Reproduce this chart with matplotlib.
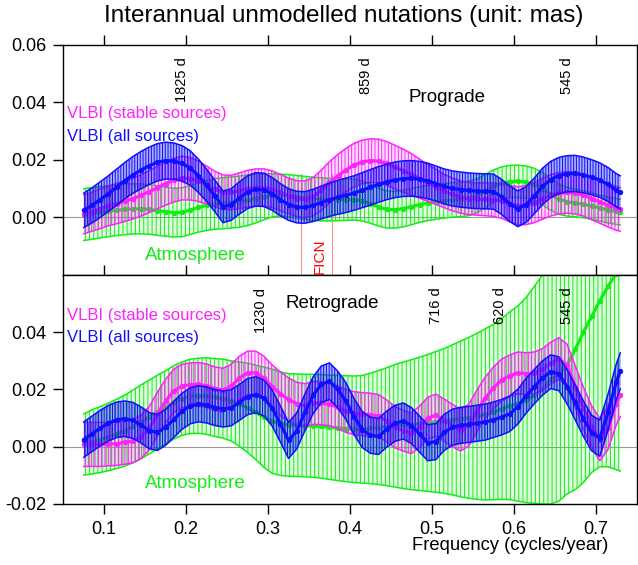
import matplotlib
matplotlib.use("Agg")
import matplotlib.pyplot as plt
import numpy as np

plt.rcParams["font.family"] = ["Liberation Sans", "DejaVu Sans"]
plt.rcParams["hatch.linewidth"] = 0.7

# frequency grid (cycles/year)
freq = [0.075, 0.085, 0.095, 0.105, 0.115, 0.125, 0.135, 0.145, 0.155, 0.165,
        0.175, 0.185, 0.195, 0.205, 0.215, 0.225, 0.235, 0.245, 0.255, 0.265,
        0.275, 0.285, 0.295, 0.305, 0.315, 0.325, 0.335, 0.345, 0.355, 0.365,
        0.375, 0.385, 0.395, 0.405, 0.415, 0.425, 0.435, 0.445, 0.455, 0.465,
        0.475, 0.485, 0.495, 0.505, 0.515, 0.525, 0.535, 0.545, 0.555, 0.565,
        0.575, 0.585, 0.595, 0.605, 0.615, 0.625, 0.635, 0.645, 0.655, 0.665,
        0.675, 0.685, 0.695, 0.705, 0.715, 0.725, 0.73]

# ---- prograde (top panel) ----
pro_all = [0.0025, 0.0042, 0.0062, 0.0083, 0.0105, 0.0128, 0.0148, 0.0165, 0.0180, 0.0192,
           0.0198, 0.0196, 0.0188, 0.0172, 0.0145, 0.0112, 0.0075, 0.0037, 0.0045, 0.0068,
           0.0088, 0.0098, 0.0096, 0.0082, 0.0062, 0.0045, 0.0036, 0.0035, 0.0042, 0.0052,
           0.0062, 0.0070, 0.0077, 0.0085, 0.0095, 0.0105, 0.0115, 0.0124, 0.0131, 0.0135,
           0.0136, 0.0133, 0.0127, 0.0118, 0.0108, 0.0101, 0.0097, 0.0094, 0.0092, 0.0091,
           0.0090, 0.0072, 0.0048, 0.0030, 0.0045, 0.0075, 0.0108, 0.0132, 0.0146, 0.0152,
           0.0153, 0.0148, 0.0140, 0.0130, 0.0115, 0.0095, 0.0087]
pro_all_err = [0.0060, 0.0061, 0.0062, 0.0062, 0.0063, 0.0063, 0.0064, 0.0065, 0.0065, 0.0065,
               0.0064, 0.0063, 0.0062, 0.0060, 0.0058, 0.0056, 0.0055, 0.0055, 0.0055, 0.0056,
               0.0057, 0.0058, 0.0058, 0.0057, 0.0056, 0.0055, 0.0055, 0.0055, 0.0056, 0.0057,
               0.0058, 0.0059, 0.0060, 0.0060, 0.0061, 0.0062, 0.0062, 0.0062, 0.0062, 0.0062,
               0.0062, 0.0062, 0.0062, 0.0061, 0.0061, 0.0061, 0.0061, 0.0061, 0.0061, 0.0061,
               0.0061, 0.0061, 0.0062, 0.0062, 0.0062, 0.0062, 0.0063, 0.0063, 0.0063, 0.0063,
               0.0063, 0.0062, 0.0061, 0.0060, 0.0059, 0.0058, 0.0058]
pro_stable = [0.0011, 0.0020, 0.0030, 0.0040, 0.0048, 0.0056, 0.0066, 0.0077, 0.0090, 0.0104,
              0.0118, 0.0130, 0.0137, 0.0135, 0.0126, 0.0113, 0.0099, 0.0088, 0.0087, 0.0093,
              0.0100, 0.0104, 0.0104, 0.0098, 0.0087, 0.0075, 0.0066, 0.0063, 0.0072, 0.0095,
              0.0122, 0.0145, 0.0165, 0.0182, 0.0193, 0.0198, 0.0196, 0.0188, 0.0175, 0.0163,
              0.0150, 0.0135, 0.0120, 0.0106, 0.0092, 0.0080, 0.0071, 0.0066, 0.0064, 0.0063,
              0.0062, 0.0057, 0.0048, 0.0041, 0.0043, 0.0052, 0.0065, 0.0077, 0.0084, 0.0087,
              0.0085, 0.0078, 0.0066, 0.0054, 0.0042, 0.0032, 0.0028]
pro_stable_err = [0.0068, 0.0068, 0.0069, 0.0069, 0.0070, 0.0070, 0.0071, 0.0072, 0.0073, 0.0074,
                  0.0075, 0.0076, 0.0076, 0.0074, 0.0070, 0.0066, 0.0062, 0.0060, 0.0060, 0.0062,
                  0.0064, 0.0065, 0.0065, 0.0064, 0.0063, 0.0062, 0.0062, 0.0064, 0.0067, 0.0070,
                  0.0072, 0.0074, 0.0075, 0.0076, 0.0076, 0.0076, 0.0076, 0.0076, 0.0076, 0.0075,
                  0.0072, 0.0068, 0.0064, 0.0061, 0.0058, 0.0057, 0.0056, 0.0056, 0.0056, 0.0057,
                  0.0058, 0.0060, 0.0063, 0.0066, 0.0068, 0.0070, 0.0071, 0.0072, 0.0072, 0.0072,
                  0.0073, 0.0073, 0.0074, 0.0074, 0.0075, 0.0076, 0.0076]
pro_atm = [0.0010, 0.0014, 0.0018, 0.0022, 0.0025, 0.0028, 0.0030, 0.0030, 0.0028, 0.0024,
           0.0020, 0.0017, 0.0018, 0.0026, 0.0035, 0.0042, 0.0047, 0.0050, 0.0052, 0.0055,
           0.0060, 0.0066, 0.0072, 0.0077, 0.0078, 0.0076, 0.0072, 0.0068, 0.0065, 0.0063,
           0.0062, 0.0062, 0.0062, 0.0062, 0.0058, 0.0048, 0.0036, 0.0028, 0.0027, 0.0031,
           0.0038, 0.0045, 0.0050, 0.0054, 0.0058, 0.0061, 0.0063, 0.0066, 0.0075, 0.0092,
           0.0108, 0.0119, 0.0125, 0.0126, 0.0123, 0.0115, 0.0100, 0.0080, 0.0064, 0.0055,
           0.0050, 0.0046, 0.0040, 0.0033, 0.0026, 0.0021, 0.0019]
pro_atm_err = [0.0090, 0.0090, 0.0089, 0.0089, 0.0088, 0.0088, 0.0087, 0.0087, 0.0086, 0.0086,
               0.0085, 0.0085, 0.0085, 0.0085, 0.0086, 0.0087, 0.0088, 0.0089, 0.0089, 0.0089,
               0.0088, 0.0085, 0.0080, 0.0075, 0.0073, 0.0073, 0.0074, 0.0075, 0.0075, 0.0075,
               0.0074, 0.0073, 0.0072, 0.0071, 0.0070, 0.0068, 0.0066, 0.0065, 0.0064, 0.0064,
               0.0063, 0.0062, 0.0061, 0.0060, 0.0060, 0.0060, 0.0060, 0.0060, 0.0059, 0.0058,
               0.0057, 0.0057, 0.0056, 0.0056, 0.0056, 0.0056, 0.0056, 0.0055, 0.0053, 0.0050,
               0.0048, 0.0047, 0.0046, 0.0045, 0.0045, 0.0045, 0.0045]

# ---- retrograde (bottom panel) ----
retro_all = [0.0025, 0.0045, 0.0065, 0.0082, 0.0094, 0.0098, 0.0092, 0.0076, 0.0056, 0.0050,
             0.0068, 0.0096, 0.0124, 0.0143, 0.0150, 0.0146, 0.0137, 0.0132, 0.0136, 0.0155,
             0.0175, 0.0182, 0.0170, 0.0135, 0.0080, 0.0022, 0.0055, 0.0120, 0.0180, 0.0218,
             0.0229, 0.0200, 0.0160, 0.0105, 0.0060, 0.0040, 0.0036, 0.0062, 0.0082, 0.0090,
             0.0074, 0.0044, 0.0014, 0.0018, 0.0050, 0.0068, 0.0075, 0.0078, 0.0082, 0.0086,
             0.0094, 0.0103, 0.0115, 0.0140, 0.0178, 0.0210, 0.0240, 0.0262, 0.0255, 0.0210,
             0.0155, 0.0098, 0.0048, 0.0030, 0.0120, 0.0225, 0.0265]
retro_all_err = [0.0062, 0.0062, 0.0062, 0.0062, 0.0062, 0.0062, 0.0063, 0.0063, 0.0063, 0.0063,
                 0.0063, 0.0063, 0.0063, 0.0063, 0.0063, 0.0063, 0.0063, 0.0063, 0.0063, 0.0063,
                 0.0063, 0.0063, 0.0063, 0.0063, 0.0063, 0.0063, 0.0063, 0.0064, 0.0064, 0.0064,
                 0.0064, 0.0064, 0.0064, 0.0063, 0.0063, 0.0063, 0.0063, 0.0063, 0.0063, 0.0063,
                 0.0063, 0.0063, 0.0063, 0.0063, 0.0063, 0.0063, 0.0063, 0.0063, 0.0063, 0.0063,
                 0.0062, 0.0062, 0.0062, 0.0061, 0.0061, 0.0060, 0.0060, 0.0059, 0.0059, 0.0060,
                 0.0061, 0.0062, 0.0062, 0.0063, 0.0063, 0.0063, 0.0063]
retro_stable = [0.0008, 0.0008, 0.0008, 0.0009, 0.0011, 0.0015, 0.0020, 0.0035, 0.0065, 0.0115,
                0.0160, 0.0195, 0.0212, 0.0217, 0.0218, 0.0213, 0.0203, 0.0198, 0.0212, 0.0240,
                0.0258, 0.0258, 0.0240, 0.0210, 0.0185, 0.0165, 0.0150, 0.0145, 0.0153, 0.0152,
                0.0148, 0.0138, 0.0125, 0.0117, 0.0114, 0.0112, 0.0108, 0.0090, 0.0068, 0.0056,
                0.0047, 0.0070, 0.0100, 0.0110, 0.0093, 0.0074, 0.0058, 0.0075, 0.0125, 0.0170,
                0.0205, 0.0233, 0.0248, 0.0258, 0.0255, 0.0258, 0.0270, 0.0292, 0.0308, 0.0285,
                0.0210, 0.0135, 0.0070, 0.0025, 0.0065, 0.0150, 0.0180]
retro_stable_err = [0.0077, 0.0077, 0.0077, 0.0076, 0.0076, 0.0076, 0.0076, 0.0076, 0.0076, 0.0076,
                    0.0076, 0.0076, 0.0076, 0.0076, 0.0076, 0.0076, 0.0076, 0.0076, 0.0076, 0.0076,
                    0.0076, 0.0076, 0.0076, 0.0076, 0.0076, 0.0076, 0.0075, 0.0075, 0.0075, 0.0075,
                    0.0075, 0.0075, 0.0075, 0.0075, 0.0075, 0.0075, 0.0074, 0.0073, 0.0072, 0.0071,
                    0.0071, 0.0072, 0.0073, 0.0074, 0.0074, 0.0074, 0.0073, 0.0073, 0.0073, 0.0073,
                    0.0073, 0.0073, 0.0073, 0.0073, 0.0073, 0.0073, 0.0073, 0.0073, 0.0073, 0.0073,
                    0.0073, 0.0073, 0.0073, 0.0074, 0.0075, 0.0075, 0.0075]
retro_atm = [0.0008, 0.0017, 0.0025, 0.0034, 0.0045, 0.0056, 0.0071, 0.0087, 0.0104, 0.0121,
             0.0138, 0.0155, 0.0168, 0.0176, 0.0178, 0.0177, 0.0172, 0.0168, 0.0160, 0.0149,
             0.0136, 0.0120, 0.0103, 0.0089, 0.0081, 0.0076, 0.0075, 0.0074, 0.0073, 0.0071,
             0.0068, 0.0066, 0.0063, 0.0061, 0.0061, 0.0064, 0.0067, 0.0070, 0.0073, 0.0075,
             0.0077, 0.0080, 0.0083, 0.0087, 0.0090, 0.0094, 0.0097, 0.0101, 0.0106, 0.0113,
             0.0121, 0.0132, 0.0143, 0.0151, 0.0163, 0.0181, 0.0200, 0.0235, 0.0255, 0.0285,
             0.0340, 0.0400, 0.0455, 0.0510, 0.0560, 0.0605, 0.0625]
retro_atm_err = [0.0107, 0.0112, 0.0115, 0.0118, 0.0121, 0.0124, 0.0127, 0.0129, 0.0129, 0.0129,
                 0.0128, 0.0128, 0.0128, 0.0130, 0.0131, 0.0134, 0.0136, 0.0138, 0.0140, 0.0147,
                 0.0156, 0.0165, 0.0175, 0.0182, 0.0181, 0.0179, 0.0179, 0.0179, 0.0180, 0.0181,
                 0.0182, 0.0184, 0.0185, 0.0186, 0.0188, 0.0193, 0.0199, 0.0206, 0.0214, 0.0221,
                 0.0227, 0.0233, 0.0239, 0.0246, 0.0253, 0.0262, 0.0272, 0.0281, 0.0290, 0.0299,
                 0.0306, 0.0316, 0.0328, 0.0341, 0.0358, 0.0379, 0.0400, 0.0435, 0.0445, 0.0450,
                 0.0490, 0.0525, 0.0545, 0.0580, 0.0630, 0.0685, 0.0710]

# period markers (days)
pro_periods = [1825, 859, 545]
retro_periods = [1230, 716, 620, 545]
ficn_band = [0.3396, 0.3785]

x_ticks = [0.1, 0.2, 0.3, 0.4, 0.5, 0.6, 0.7]
top_yticks = [0.0, 0.02, 0.04, 0.06]
top_ylabels = ["0.00", "0.02", "0.04", "0.06"]
bot_yticks = [-0.02, 0.0, 0.02, 0.04]
bot_ylabels = ["-0.02", "0.00", "0.02", "0.04"]

GREEN = "#11ee11"
MAGENTA = "#ff22ff"
BLUE = "#1010ff"

fig = plt.figure(figsize=(6.38, 5.65), dpi=100)
ax1 = fig.add_axes([0.0992, 0.5133, 0.8987, 0.4071])
ax2 = fig.add_axes([0.0992, 0.1080, 0.8987, 0.4053])


def band(ax, c, e, color, hatch, face_alpha, z):
    c = np.array(c)
    e = np.array(e)
    lo, hi = c - e, c + e
    ax.fill_between(freq, lo, hi, facecolor=color, alpha=face_alpha, linewidth=0, zorder=z)
    ax.fill_between(freq, lo, hi, facecolor="none", edgecolor=color, hatch=hatch,
                    linewidth=0, zorder=z)
    ax.plot(freq, hi, color=color, lw=1.1, zorder=z + 0.1)
    ax.plot(freq, lo, color=color, lw=1.1, zorder=z + 0.1)
    ax.plot(freq, c, color=color, lw=2.3, marker="o", ms=2.8, zorder=z + 0.2)


for ax in (ax1, ax2):
    ax.axhline(0, color="#999999", lw=0.8, zorder=0.5)

band(ax1, pro_atm, pro_atm_err, GREEN, "||||", 0.12, 1)
band(ax1, pro_stable, pro_stable_err, MAGENTA, "|||||", 0.15, 2)
band(ax1, pro_all, pro_all_err, BLUE, "||||||", 0.35, 3)

band(ax2, retro_atm, retro_atm_err, GREEN, "||||", 0.12, 1)
band(ax2, retro_stable, retro_stable_err, MAGENTA, "|||||", 0.15, 2)
band(ax2, retro_all, retro_all_err, BLUE, "||||||", 0.35, 3)

# FICN band
for xf in ficn_band:
    ax1.axvline(xf, ymin=0.0, ymax=0.44, color="#ff9090", lw=0.8, zorder=0.6)
ax1.text(sum(ficn_band) / 2 + 0.004, -0.0135, "FICN", color="red", rotation=90,
         ha="center", va="center", fontsize=11)

# period labels
for p in pro_periods:
    ax1.text(365.25 / p - 0.0055, 0.0556, f"{p} d", rotation=90, ha="center", va="top",
             fontsize=10.5, zorder=5)
for p in retro_periods:
    ax2.text(365.25 / p - 0.0055, 0.0556, f"{p} d", rotation=90, ha="center", va="top",
             fontsize=10.5, zorder=5)

ax1.text(0.518, 0.0418, "Prograde", ha="center", va="center", fontsize=13.5)
ax2.text(0.378, 0.0500, "Retrograde", ha="center", va="center", fontsize=13.5)

ax1.text(0.055, 0.0360, "VLBI (stable sources)", color=MAGENTA, ha="left", va="center", fontsize=12)
ax1.text(0.055, 0.0283, "VLBI (all sources)", color=BLUE, ha="left", va="center", fontsize=12)
ax1.text(0.150, -0.0132, "Atmosphere", color=GREEN, ha="left", va="center", fontsize=13.5)
ax2.text(0.055, 0.0460, "VLBI (stable sources)", color=MAGENTA, ha="left", va="center", fontsize=12)
ax2.text(0.055, 0.0380, "VLBI (all sources)", color=BLUE, ha="left", va="center", fontsize=12)
ax2.text(0.150, -0.0128, "Atmosphere", color=GREEN, ha="left", va="center", fontsize=13.5)

for ax in (ax1, ax2):
    ax.set_xlim(0.05, 0.75)
    ax.set_ylim(-0.02, 0.06)
    ax.set_xticks(x_ticks)
    ax.tick_params(axis="both", direction="out", length=7, width=1, labelsize=13, pad=5)
    ax.tick_params(axis="y", right=True)
    for s in ax.spines.values():
        s.set_linewidth(1.0)

ax1.tick_params(axis="x", top=True, bottom=False, labelbottom=False)
ax2.tick_params(axis="x", top=True, bottom=True, labelbottom=True)
ax1.set_yticks(top_yticks)
ax1.set_yticklabels(top_ylabels)
ax2.set_yticks(bot_yticks)
ax2.set_yticklabels(bot_ylabels)
ax2.set_xticklabels([f"{v:.1f}" for v in x_ticks])

fig.text(0.539, 0.972, "Interannual unmodelled nutations (unit: mas)", ha="center",
         va="center", fontsize=17.5)
fig.text(0.953, 0.035, "Frequency (cycles/year)", ha="right", va="center", fontsize=13.2)

fig.savefig("out.png", dpi=100)
